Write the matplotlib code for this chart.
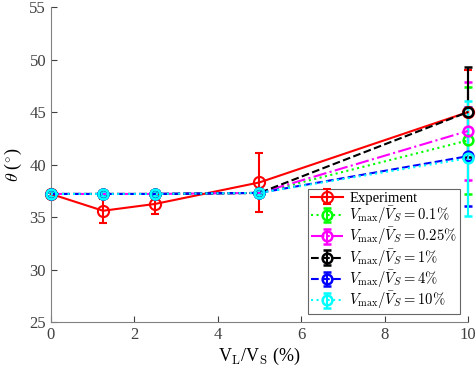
import matplotlib.pyplot as plt

plt.rcParams['font.family'] = ['Liberation Serif', 'DejaVu Serif']
plt.rcParams['mathtext.fontset'] = 'cm'

# 資料
x = [0, 1.25, 2.5, 5, 10]

exp_y = [37.2, 35.6, 36.25, 38.3, 45.0]
exp_err = [0.2, 1.15, 0.95, 2.85, 4.0]

labels = ['0.1', '0.25', '1', '4', '10']
sim_y = [
    [37.2, 37.2, 37.2, 37.3, 42.3],
    [37.2, 37.2, 37.2, 37.3, 43.2],
    [37.2, 37.2, 37.2, 37.3, 45.0],
    [37.2, 37.2, 37.2, 37.3, 40.8],
    [37.2, 37.2, 37.2, 37.3, 40.6],
]
sim_err = [
    [0.2, 0.2, 0.2, 0.2, 5.1],
    [0.2, 0.2, 0.2, 0.2, 4.7],
    [0.2, 0.2, 0.2, 0.2, 4.3],
    [0.2, 0.2, 0.2, 0.2, 4.7],
    [0.2, 0.2, 0.2, 0.2, 5.5],
]
colors = ['#00ff00', '#ff00ff', 'black', 'blue', 'cyan']
styles = [':', '-.', '--', '--', ':']

fig = plt.figure(figsize=(4.76, 3.76), dpi=100)
ax = fig.add_axes([0.107, 0.1436, 0.876, 0.8374])

ax.errorbar(x, exp_y, yerr=exp_err, color='red', ls='-', lw=1.5,
            marker='o', ms=8, mfc='none', mew=1.5, capsize=3,
            label='Experiment', clip_on=False, zorder=3)

for y, e, c, s, l in zip(sim_y, sim_err, colors, styles, labels):
    ax.errorbar(x, y, yerr=e, color=c, ls=s, lw=1.5,
                marker='o', ms=7, mfc='none', mew=1.8, capsize=3,
                label=r'$V_{\max}/\bar{V}_S = ' + l + r'\%$',
                clip_on=False, zorder=3)

ax.set_xlim(0, 10)
ax.set_ylim(25, 55)
ax.set_xticks([0, 2, 4, 6, 8, 10])
ax.set_yticks([25, 30, 35, 40, 45, 50, 55])
ax.tick_params(direction='in', labelsize=12, colors='#404040', length=4)
for side in ['top', 'right']:
    ax.spines[side].set_visible(False)
for side in ['left', 'bottom']:
    ax.spines[side].set_color('#808080')

ax.set_xlabel('V$_\\mathrm{L}$/V$_\\mathrm{S}$ (%)', fontsize=13, labelpad=2)
ax.set_ylabel(r'$\theta$ ($^{\circ}$)', fontsize=13, labelpad=4)

leg = ax.legend(loc='lower right', bbox_to_anchor=(0.981, 0.025),
                borderaxespad=0, fontsize=10.5, fancybox=False,
                framealpha=1, labelspacing=0.0, handlelength=2.2,
                handletextpad=0.4, borderpad=0.2, handleheight=0.6)
leg.get_frame().set_edgecolor('#666666')
leg.get_frame().set_linewidth(0.8)

plt.savefig('out.png', dpi=100)
